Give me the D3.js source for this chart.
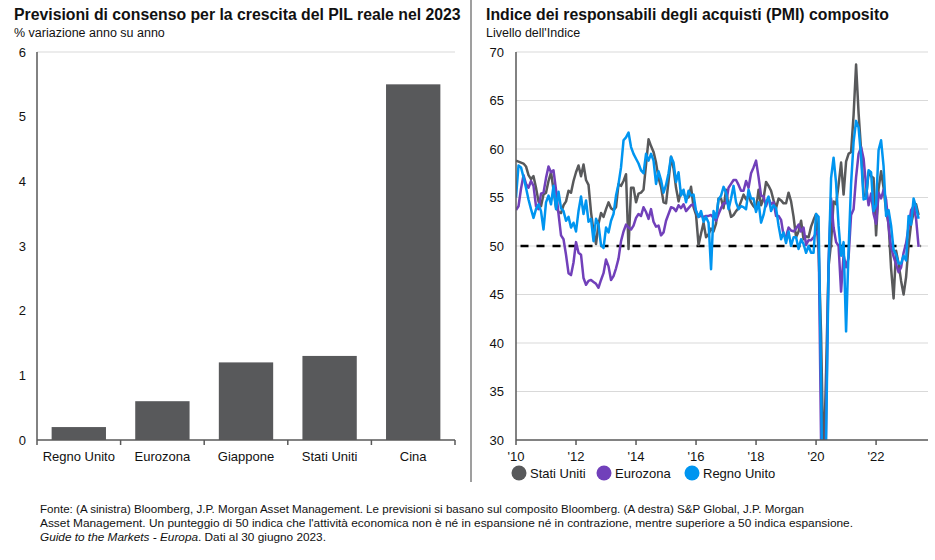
<!DOCTYPE html>
<html><head><meta charset="utf-8">
<script src="https://cdn.jsdelivr.net/npm/d3@7/dist/d3.min.js"></script>
<style>
html,body{margin:0;padding:0;background:#fff;}
svg{display:block;font-family:"Liberation Sans",Arial,sans-serif;}
</style></head>
<body>
<svg id="chart" width="935" height="560"></svg>
<script>
// ---------- DATA ----------
const leftTitle = "Previsioni di consenso per la crescita del PIL reale nel 2023";
const leftSubtitle = "% variazione anno su anno";
const categories = ["Regno Unito", "Eurozona", "Giappone", "Stati Uniti", "Cina"];
const gdpValues = [0.2, 0.6, 1.2, 1.3, 5.5];
const leftTicks = [0, 1, 2, 3, 4, 5, 6];

const rightTitle = "Indice dei responsabili degli acquisti (PMI) composito";
const rightSubtitle = "Livello dell'Indice";
const rightTicks = [30, 35, 40, 45, 50, 55, 60, 65, 70];
const yearTicks = [2010, 2012, 2014, 2016, 2018, 2020, 2022];
const yearLabels = ["'10", "'12", "'14", "'16", "'18", "'20", "'22"];
const startYear = 2010; // monthly data from Jan 2010 to Jun 2023
const seriesNames = ["Stati Uniti", "Eurozona", "Regno Unito"];

const usValues = [
58.8,58.7,58.6,58.5,58.2,57.3,56.9,57.2,56.0,54.6,54.1,55.3,
55.5,56.7,57.6,55.8,54.0,53.5,53.4,54.2,54.6,55.7,55.5,56.7,
57.6,58.3,57.2,58.4,56.8,56.3,53.5,51.5,50.2,52.3,53.4,53.0,
53.8,54.5,53.9,53.7,54.0,56.4,56.2,56.7,57.4,49.7,56.0,56.0,
54.5,55.4,55.5,55.8,58.4,61.0,60.3,59.7,58.6,57.0,56.1,54.5,
54.4,56.7,59.2,58.0,56.0,54.6,55.7,55.4,55.0,55.0,56.1,54.0,
53.2,50.1,51.3,52.4,50.9,51.2,51.8,51.5,52.3,54.9,54.9,53.9,
55.8,54.1,53.0,53.2,53.6,53.9,54.6,55.3,54.8,55.2,54.5,54.1,
53.8,55.8,54.2,54.9,56.6,56.2,55.7,54.7,53.9,54.9,54.7,54.4,
54.4,55.5,54.6,53.0,50.9,51.5,52.6,50.7,51.0,50.9,52.0,52.7,
53.3,49.6,40.9,27.0,37.0,47.9,50.3,54.6,54.3,56.3,58.6,55.3,
58.7,59.5,59.7,63.5,68.7,63.7,59.9,55.4,55.0,57.6,57.2,57.0,
51.1,55.9,57.7,56.0,53.6,52.3,47.7,44.6,49.5,48.2,46.4,45.0,
46.8,50.1,52.3,53.4,54.3,53.2];

const ezValues = [
53.7,54.1,55.9,57.3,56.4,56.0,56.7,56.2,54.1,53.8,55.4,55.5,
57.0,58.2,57.6,57.8,55.8,53.3,51.1,50.7,49.1,47.2,47.0,48.3,
50.4,49.3,49.1,46.7,46.0,46.4,46.5,46.3,46.1,45.7,46.5,47.2,
48.6,47.9,46.5,46.9,47.7,48.7,50.5,51.5,52.2,51.9,51.7,52.1,
52.9,53.3,53.1,54.0,53.5,52.8,53.8,52.5,52.0,52.1,51.1,51.4,
52.6,53.3,54.0,53.9,53.6,54.2,53.9,54.3,53.6,53.9,54.2,54.3,
53.6,53.0,53.1,53.0,53.1,53.1,53.2,52.9,52.6,53.3,53.9,54.4,
54.4,56.0,56.4,56.8,56.8,56.3,55.7,55.7,56.7,56.0,57.5,58.1,
58.8,57.1,55.2,55.1,54.1,54.9,54.3,54.5,53.1,53.1,52.7,51.1,
51.0,51.9,51.6,51.5,51.8,52.2,51.5,51.9,50.1,50.6,50.6,50.9,
51.3,51.6,29.7,13.6,31.9,48.5,54.9,51.9,50.4,50.0,45.3,49.1,
47.8,48.8,53.2,53.8,57.1,59.5,60.2,59.0,56.2,54.2,55.4,53.3,
52.3,55.5,54.9,55.8,54.8,52.0,49.9,48.9,48.1,47.3,47.8,49.3,
50.3,52.0,53.7,54.1,52.8,49.9];

const ukValues = [
55.0,58.3,58.1,57.1,56.0,54.8,53.8,52.9,53.8,54.3,53.6,51.7,
54.5,55.2,54.3,56.2,53.8,55.6,53.9,53.6,52.6,53.0,51.9,52.4,
51.5,53.6,55.1,53.3,54.7,52.5,52.8,50.5,52.8,52.2,50.1,49.8,
51.9,51.4,52.6,53.3,55.2,56.4,58.1,60.9,61.2,61.7,60.2,59.5,
59.0,58.5,57.8,57.5,59.5,58.8,59.5,58.8,56.4,57.7,56.8,55.5,
56.3,57.5,59.2,58.6,56.6,57.6,55.2,55.8,54.5,55.7,55.2,55.3,
53.6,53.0,53.6,52.5,53.0,52.4,47.6,53.6,52.9,54.8,55.2,56.1,
55.5,53.8,54.9,56.2,54.5,53.8,54.1,54.0,53.8,55.8,54.9,54.9,
53.5,54.5,52.4,53.2,54.5,55.1,53.6,54.2,53.9,52.1,50.7,51.4,
50.3,51.5,50.0,50.9,50.9,49.7,50.7,50.2,49.3,50.0,49.3,49.3,
53.3,53.0,36.0,13.8,30.0,47.7,57.0,59.1,56.5,52.1,49.0,50.4,
41.2,49.6,56.4,60.7,62.9,62.2,59.2,54.8,54.9,57.8,57.6,53.6,
54.2,59.9,60.9,58.2,53.1,53.7,52.1,49.6,49.1,48.2,48.2,49.0,
48.5,53.1,52.2,54.9,54.0,52.8];

const footLines = [
 "Fonte: (A sinistra) Bloomberg, J.P. Morgan Asset Management. Le previsioni si basano sul composito Bloomberg. (A destra) S&P Global, J.P. Morgan",
 "Asset Management. Un punteggio di 50 indica che l'attività economica non è né in espansione né in contrazione, mentre superiore a 50 indica espansione."
];
const footItalic = "Guide to the Markets - Europa";
const footRest = ". Dati al 30 giugno 2023.";

// ---------- STYLE ----------
const barColor = "#58595b";
const axisColor = "#595959";
const gridColor = "#d9d9d9";
const seriesColors = ["#58595b", "#7140ba", "#0095f0"];

const svg = d3.select("#chart");

// ---------- LEFT CHART ----------
svg.append("text").attr("x", 14).attr("y", 20).attr("font-size", 15.8).attr("font-weight", "bold")
  .attr("fill", "#111").text(leftTitle);
svg.append("text").attr("x", 14).attr("y", 37).attr("font-size", 12.5).attr("fill", "#111").text(leftSubtitle);

const xL = d3.scaleBand().domain(categories).range([37, 455]).paddingInner(0.35).paddingOuter(0.175);
const yL = d3.scaleLinear().domain([0, 6]).range([440, 52]);

const gL = svg.append("g");
gL.append("line").attr("x1", 37).attr("x2", 455).attr("y1", yL(6)).attr("y2", yL(6))
  .attr("stroke", gridColor).attr("stroke-width", 1.2);

gL.selectAll("rect.bar").data(gdpValues).join("rect").attr("class", "bar")
  .attr("x", (d, i) => xL(categories[i])).attr("width", xL.bandwidth())
  .attr("y", d => yL(d)).attr("height", d => yL(0) - yL(d)).attr("fill", barColor);

gL.append("line").attr("x1", 37).attr("x2", 37).attr("y1", yL(6)).attr("y2", yL(0))
  .attr("stroke", axisColor).attr("stroke-width", 1.5);
gL.selectAll("text.yt").data(leftTicks).join("text").attr("class", "yt")
  .attr("x", 26).attr("y", d => yL(d) + 4.5).attr("text-anchor", "end")
  .attr("font-size", 13).attr("fill", "#111").text(d => d);

const xAxisL = gL.append("g").attr("transform", `translate(0,${yL(0)})`);
xAxisL.append("line").attr("x1", 37).attr("x2", 455).attr("stroke", axisColor).attr("stroke-width", 1.5);
const boundaries = categories.map(c => xL(c) - xL.step() * xL.paddingInner() / 2).concat([455]);
xAxisL.selectAll("line.tk").data(boundaries).join("line").attr("class", "tk")
  .attr("x1", d => d).attr("x2", d => d).attr("y1", 0).attr("y2", 5)
  .attr("stroke", axisColor).attr("stroke-width", 1.5);
xAxisL.selectAll("text").data(categories).join("text")
  .attr("x", d => xL(d) + xL.bandwidth() / 2).attr("y", 21).attr("text-anchor", "middle")
  .attr("font-size", 13).attr("fill", "#111").text(d => d);

// separator
svg.append("line").attr("x1", 471).attr("x2", 471).attr("y1", 0).attr("y2", 482)
  .attr("stroke", "#7f7f7f").attr("stroke-width", 1.5);

// ---------- RIGHT CHART ----------
svg.append("text").attr("x", 486).attr("y", 20).attr("font-size", 15.8).attr("font-weight", "bold")
  .attr("fill", "#111").text(rightTitle);
svg.append("text").attr("x", 486).attr("y", 37).attr("font-size", 12.5).attr("fill", "#111").text(rightSubtitle);

const xR = d3.scaleLinear().domain([2010, 2023.73]).range([516, 928]);
const yR = d3.scaleLinear().domain([30, 70]).range([440, 52]);

const gR = svg.append("g");
gR.selectAll("line.grid").data(rightTicks.filter(d => d > 30)).join("line").attr("class", "grid")
  .attr("x1", 516).attr("x2", 928).attr("y1", d => yR(d)).attr("y2", d => yR(d))
  .attr("stroke", gridColor).attr("stroke-width", 1.2);
gR.selectAll("text.yt").data(rightTicks).join("text").attr("class", "yt")
  .attr("x", 504).attr("y", d => yR(d) + 4.5).attr("text-anchor", "end")
  .attr("font-size", 13).attr("fill", "#111").text(d => d);

svg.append("defs").append("clipPath").attr("id", "plotclip").append("rect")
  .attr("x", 516).attr("y", 40).attr("width", 420).attr("height", 400);

// dashed 50 line
gR.append("line").attr("x1", xR(2010.15)).attr("x2", xR(2023.5)).attr("y1", yR(50)).attr("y2", yR(50))
  .attr("stroke", "#000").attr("stroke-width", 2.5).attr("stroke-dasharray", "8,8");

const line = d3.line().x((d, i) => xR(startYear + i / 12)).y(d => yR(d));
const allSeries = [usValues, ezValues, ukValues];
gR.append("g").attr("clip-path", "url(#plotclip)").selectAll("path").data(allSeries).join("path")
  .attr("d", d => line(d)).attr("fill", "none")
  .attr("stroke", (d, i) => seriesColors[i]).attr("stroke-width", 2.5)
  .attr("stroke-linejoin", "round");

gR.append("line").attr("x1", 516).attr("x2", 516).attr("y1", yR(70)).attr("y2", yR(30))
  .attr("stroke", axisColor).attr("stroke-width", 1.5);
const xAxisR = gR.append("g").attr("transform", `translate(0,${yR(30)})`);
xAxisR.append("line").attr("x1", 516).attr("x2", 928).attr("stroke", axisColor).attr("stroke-width", 1.5);
xAxisR.selectAll("line.tk").data(yearTicks).join("line").attr("class", "tk")
  .attr("x1", d => xR(d)).attr("x2", d => xR(d)).attr("y1", 0).attr("y2", 5)
  .attr("stroke", axisColor).attr("stroke-width", 1.5);
xAxisR.selectAll("text").data(yearTicks).join("text")
  .attr("x", d => xR(d)).attr("y", 21).attr("text-anchor", "middle")
  .attr("font-size", 13).attr("fill", "#111").text((d, i) => yearLabels[i]);

// legend
const legendX = [519, 604, 692];
const lg = svg.append("g");
seriesNames.forEach((name, i) => {
  lg.append("circle").attr("cx", legendX[i]).attr("cy", 473).attr("r", 7.5).attr("fill", seriesColors[i]);
  lg.append("text").attr("x", legendX[i] + 11).attr("y", 477.5).attr("font-size", 13).attr("fill", "#111").text(name);
});

// ---------- FOOTNOTE ----------
const fg = svg.append("g").attr("font-size", 11.8).attr("fill", "#111");
fg.append("text").attr("x", 40).attr("y", 513).attr("textLength", 764).attr("lengthAdjust", "spacingAndGlyphs").text(footLines[0]);
fg.append("text").attr("x", 40).attr("y", 527).attr("textLength", 813).attr("lengthAdjust", "spacingAndGlyphs").text(footLines[1]);
const t3 = fg.append("text").attr("x", 40).attr("y", 541);
t3.append("tspan").attr("font-style", "italic").text(footItalic);
t3.append("tspan").text(footRest);
</script>
</body></html>
